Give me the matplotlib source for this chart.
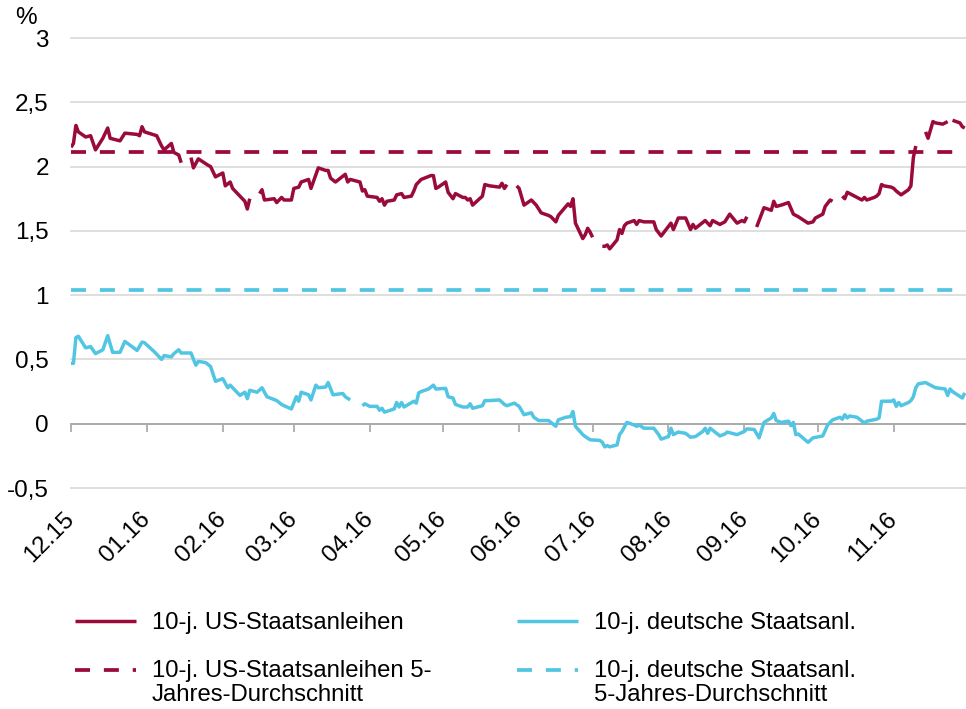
import numpy as np
import pandas as pd
import matplotlib
matplotlib.use('Agg')
from matplotlib import pyplot as plt
from matplotlib.legend_handler import HandlerLine2D

plt.rcParams['font.family'] = ['Liberation Sans', 'DejaVu Sans']

nan = np.nan

# 10-j. US-Staatsanleihen (Rendite in %), Luecken = Feiertage
us_dates = ['2015-12-01', '2015-12-02', '2015-12-03', '2015-12-04', '2015-12-07', '2015-12-09',
            '2015-12-11', '2015-12-14', '2015-12-16', '2015-12-17', '2015-12-21', '2015-12-23',
            '2015-12-28', '2015-12-29', '2015-12-30', '2015-12-31', '2016-01-05', '2016-01-07',
            '2016-01-08', '2016-01-11', '2016-01-12', '2016-01-14', '2016-01-15', '2016-01-18',
            '2016-01-19', '2016-01-20', '2016-01-22', '2016-01-26', '2016-01-27', '2016-01-29',
            '2016-02-01', '2016-02-02', '2016-02-04', '2016-02-05', '2016-02-08', '2016-02-10',
            '2016-02-11', '2016-02-12', '2016-02-15', '2016-02-16', '2016-02-17', '2016-02-18',
            '2016-02-22', '2016-02-23', '2016-02-25', '2016-02-26', '2016-02-29', '2016-03-01',
            '2016-03-03', '2016-03-04', '2016-03-07', '2016-03-08', '2016-03-11', '2016-03-14',
            '2016-03-15', '2016-03-16', '2016-03-18', '2016-03-22', '2016-03-23', '2016-03-24',
            '2016-03-28', '2016-03-29', '2016-03-30', '2016-03-31', '2016-04-04', '2016-04-05',
            '2016-04-06', '2016-04-07', '2016-04-08', '2016-04-11', '2016-04-12', '2016-04-14',
            '2016-04-15', '2016-04-18', '2016-04-19', '2016-04-20', '2016-04-22', '2016-04-26',
            '2016-04-27', '2016-04-28', '2016-04-29', '2016-05-02', '2016-05-03', '2016-05-05',
            '2016-05-06', '2016-05-09', '2016-05-10', '2016-05-11', '2016-05-12', '2016-05-13',
            '2016-05-17', '2016-05-18', '2016-05-20', '2016-05-24', '2016-05-25', '2016-05-26',
            '2016-05-27', '2016-05-30', '2016-05-31', '2016-06-01', '2016-06-03', '2016-06-06',
            '2016-06-08', '2016-06-10', '2016-06-13', '2016-06-14', '2016-06-16', '2016-06-17',
            '2016-06-21', '2016-06-22', '2016-06-23', '2016-06-24', '2016-06-27', '2016-06-28',
            '2016-06-29', '2016-06-30', '2016-07-01', '2016-07-04', '2016-07-05', '2016-07-06',
            '2016-07-07', '2016-07-08', '2016-07-11', '2016-07-12', '2016-07-13', '2016-07-14',
            '2016-07-15', '2016-07-18', '2016-07-19', '2016-07-20', '2016-07-22', '2016-07-26',
            '2016-07-27', '2016-07-29', '2016-08-02', '2016-08-03', '2016-08-05', '2016-08-08',
            '2016-08-10', '2016-08-11', '2016-08-12', '2016-08-16', '2016-08-18', '2016-08-19',
            '2016-08-22', '2016-08-24', '2016-08-26', '2016-08-29', '2016-08-31', '2016-09-01',
            '2016-09-02', '2016-09-05', '2016-09-06', '2016-09-09', '2016-09-12', '2016-09-13',
            '2016-09-14', '2016-09-16', '2016-09-19', '2016-09-21', '2016-09-23', '2016-09-27',
            '2016-09-29', '2016-09-30', '2016-10-03', '2016-10-04', '2016-10-06', '2016-10-07',
            '2016-10-10', '2016-10-11', '2016-10-12', '2016-10-13', '2016-10-17', '2016-10-19',
            '2016-10-20', '2016-10-21', '2016-10-24', '2016-10-25', '2016-10-26', '2016-10-27',
            '2016-10-28', '2016-10-31', '2016-11-01', '2016-11-02', '2016-11-04', '2016-11-07',
            '2016-11-08', '2016-11-09', '2016-11-10', '2016-11-11', '2016-11-14', '2016-11-15',
            '2016-11-17', '2016-11-18', '2016-11-21', '2016-11-23', '2016-11-24', '2016-11-25',
            '2016-11-28', '2016-11-29', '2016-11-30']
us_vals = [2.15, 2.18, 2.32, 2.27, 2.23, 2.24,
           2.13, 2.22, 2.30, 2.22, 2.20, 2.26,
           2.25, 2.24, 2.31, 2.27, 2.24, 2.16,
           2.13, 2.18, 2.11, 2.09, 2.03, nan,
           2.07, 1.99, 2.06, 2.01, 2.00, 1.92,
           1.95, 1.85, 1.88, 1.83, 1.77, 1.73,
           1.67, 1.75, nan, 1.79, 1.82, 1.74,
           1.75, 1.72, 1.76, 1.74, 1.74, 1.83,
           1.84, 1.88, 1.90, 1.83, 1.99, 1.97,
           1.97, 1.91, 1.88, 1.94, 1.88, 1.90,
           1.88, 1.81, 1.82, 1.77, 1.76, 1.73,
           1.75, 1.70, 1.73, 1.74, 1.78, 1.79,
           1.76, 1.77, 1.81, 1.86, 1.90, 1.93,
           1.93, 1.83, 1.84, 1.88, 1.80, 1.75,
           1.79, 1.76, 1.76, 1.74, 1.75, 1.70,
           1.77, 1.86, 1.85, 1.84, 1.87, 1.83,
           1.86, nan, 1.85, 1.83, 1.70, 1.74,
           1.70, 1.64, 1.62, 1.61, 1.57, 1.62,
           1.71, 1.69, 1.75, 1.56, 1.44, 1.47,
           1.52, 1.49, 1.45, nan, 1.38, 1.38,
           1.39, 1.36, 1.43, 1.51, 1.48, 1.54,
           1.56, 1.58, 1.55, 1.58, 1.57, 1.57,
           1.51, 1.46, 1.56, 1.51, 1.60, 1.60,
           1.51, 1.55, 1.52, 1.58, 1.54, 1.58,
           1.55, 1.57, 1.63, 1.56, 1.58, 1.57,
           1.61, nan, 1.53, 1.68, 1.66, 1.73,
           1.69, 1.70, 1.72, 1.63, 1.61, 1.56,
           1.57, 1.60, 1.63, 1.69, 1.74, 1.73,
           nan, 1.77, 1.75, 1.80, 1.76, 1.74,
           1.76, 1.74, 1.76, 1.77, 1.79, 1.86,
           1.85, 1.84, 1.83, 1.81, 1.78, 1.82,
           1.85, 2.07, 2.16, nan, 2.27, 2.22,
           2.35, 2.34, 2.33, 2.35, nan, 2.36,
           2.34, 2.31, 2.30]

# 10-j. deutsche Staatsanleihen (Rendite in %)
de_dates = ['2015-12-01', '2015-12-02', '2015-12-03', '2015-12-04', '2015-12-07', '2015-12-09',
            '2015-12-11', '2015-12-14', '2015-12-16', '2015-12-18', '2015-12-21', '2015-12-23',
            '2015-12-28', '2015-12-30', '2015-12-31', '2016-01-04', '2016-01-07', '2016-01-08',
            '2016-01-11', '2016-01-12', '2016-01-14', '2016-01-15', '2016-01-19', '2016-01-21',
            '2016-01-22', '2016-01-25', '2016-01-27', '2016-01-29', '2016-02-01', '2016-02-03',
            '2016-02-04', '2016-02-08', '2016-02-10', '2016-02-11', '2016-02-12', '2016-02-15',
            '2016-02-17', '2016-02-19', '2016-02-23', '2016-02-25', '2016-02-26', '2016-02-29',
            '2016-03-02', '2016-03-03', '2016-03-04', '2016-03-07', '2016-03-08', '2016-03-10',
            '2016-03-11', '2016-03-14', '2016-03-15', '2016-03-17', '2016-03-21', '2016-03-22',
            '2016-03-24', '2016-03-25', '2016-03-28', '2016-03-29', '2016-03-30', '2016-04-01',
            '2016-04-04', '2016-04-05', '2016-04-06', '2016-04-07', '2016-04-11', '2016-04-12',
            '2016-04-13', '2016-04-14', '2016-04-15', '2016-04-19', '2016-04-20', '2016-04-21',
            '2016-04-22', '2016-04-25', '2016-04-27', '2016-04-28', '2016-05-02', '2016-05-03',
            '2016-05-05', '2016-05-06', '2016-05-09', '2016-05-11', '2016-05-12', '2016-05-13',
            '2016-05-17', '2016-05-18', '2016-05-20', '2016-05-24', '2016-05-26', '2016-05-27',
            '2016-05-30', '2016-06-01', '2016-06-03', '2016-06-06', '2016-06-07', '2016-06-09',
            '2016-06-13', '2016-06-16', '2016-06-17', '2016-06-20', '2016-06-22', '2016-06-23',
            '2016-06-24', '2016-06-27', '2016-06-28', '2016-06-30', '2016-07-04', '2016-07-05',
            '2016-07-06', '2016-07-07', '2016-07-08', '2016-07-11', '2016-07-12', '2016-07-13',
            '2016-07-15', '2016-07-18', '2016-07-19', '2016-07-20', '2016-07-22', '2016-07-26',
            '2016-07-28', '2016-07-29', '2016-08-01', '2016-08-02', '2016-08-03', '2016-08-05',
            '2016-08-08', '2016-08-10', '2016-08-12', '2016-08-15', '2016-08-16', '2016-08-17',
            '2016-08-18', '2016-08-22', '2016-08-24', '2016-08-25', '2016-08-29', '2016-09-01',
            '2016-09-02', '2016-09-05', '2016-09-07', '2016-09-09', '2016-09-12', '2016-09-13',
            '2016-09-14', '2016-09-16', '2016-09-19', '2016-09-20', '2016-09-21', '2016-09-22',
            '2016-09-23', '2016-09-27', '2016-09-29', '2016-10-03', '2016-10-05', '2016-10-07',
            '2016-10-10', '2016-10-11', '2016-10-12', '2016-10-13', '2016-10-14', '2016-10-17',
            '2016-10-20', '2016-10-21', '2016-10-25', '2016-10-26', '2016-10-27', '2016-10-31',
            '2016-11-01', '2016-11-02', '2016-11-03', '2016-11-04', '2016-11-07', '2016-11-08',
            '2016-11-09', '2016-11-10', '2016-11-11', '2016-11-14', '2016-11-16', '2016-11-18',
            '2016-11-22', '2016-11-23', '2016-11-24', '2016-11-25', '2016-11-29', '2016-11-30']
de_vals = [0.47, 0.47, 0.67, 0.68, 0.59, 0.60,
           0.545, 0.575, 0.685, 0.555, 0.555, 0.64,
           0.57, 0.635, 0.63, 0.56, 0.50, 0.53,
           0.52, 0.545, 0.575, 0.55, 0.55, 0.455,
           0.485, 0.475, 0.445, 0.33, 0.35, 0.28,
           0.30, 0.22, 0.245, 0.195, 0.26, 0.245,
           0.28, 0.21, 0.18, 0.15, 0.14, 0.115,
           0.21, 0.175, 0.245, 0.225, 0.185, 0.30,
           0.28, 0.285, 0.32, 0.225, 0.235, 0.21,
           0.185, nan, nan, 0.14, 0.155, 0.135,
           0.135, 0.105, 0.12, 0.09, 0.115, 0.165,
           0.13, 0.165, 0.13, 0.175, 0.16, 0.24,
           0.25, 0.27, 0.30, 0.27, 0.275, 0.21,
           0.20, 0.15, 0.13, 0.13, 0.155, 0.12,
           0.14, 0.18, 0.18, 0.185, 0.15, 0.14,
           0.16, 0.135, 0.07, 0.085, 0.05, 0.025,
           0.025, -0.02, 0.03, 0.05, 0.055, 0.095,
           -0.02, -0.085, -0.10, -0.125, -0.13, -0.145,
           -0.18, -0.17, -0.18, -0.165, -0.085, -0.06,
           0.01, -0.01, -0.02, -0.01, -0.035, -0.035,
           -0.085, -0.12, -0.10, -0.035, -0.085, -0.065,
           -0.075, -0.105, -0.10, -0.06, -0.035, -0.075,
           -0.035, -0.095, -0.08, -0.065, -0.085, -0.06,
           -0.04, -0.045, -0.11, 0.01, 0.045, 0.08,
           0.025, 0.01, 0.02, -0.015, 0.01, -0.085,
           -0.08, -0.145, -0.11, -0.095, -0.01, 0.03,
           0.05, 0.035, 0.07, 0.045, 0.06, 0.05,
           0.005, 0.02, 0.035, 0.045, 0.175, 0.175,
           0.185, 0.135, 0.165, 0.14, 0.165, 0.18,
           0.21, 0.28, 0.31, 0.32, 0.30, 0.28,
           0.27, 0.22, 0.27, 0.25, 0.20, 0.24]

# 5-Jahres-Durchschnitte
us_avg = 2.11
de_avg = 1.04

month_labels = ['12.15', '01.16', '02.16', '03.16', '04.16', '05.16',
                '06.16', '07.16', '08.16', '09.16', '10.16', '11.16']
y_ticks = [-0.5, 0, 0.5, 1, 1.5, 2, 2.5, 3]
y_labels = ['-0,5', '0', '0,5', '1', '1,5', '2', '2,5', '3']

labels = ['10-j. US-Staatsanleihen',
          '10-j. US-Staatsanleihen 5-\nJahres-Durchschnitt',
          '10-j. deutsche Staatsanl.',
          '10-j. deutsche Staatsanl.\n5-Jahres-Durchschnitt']

RED = '#9B0A3C'
BLUE = '#52C5E3'
FS = 17.5


class HandlerTopLine(HandlerLine2D):
    # legend line sits on the first text line, like in the original
    def create_artists(self, legend, orig_handle, xdescent, ydescent,
                       width, height, fontsize, trans):
        arts = super().create_artists(legend, orig_handle, xdescent, ydescent,
                                      width, height, fontsize, trans)
        for a in arts:
            a.set_ydata(np.asarray(a.get_ydata()) + 0.55 * fontsize)
        return arts


us = pd.Series(us_vals, index=pd.to_datetime(us_dates))
de = pd.Series(de_vals, index=pd.to_datetime(de_dates))
month_starts = pd.date_range('2015-12-01', periods=len(month_labels), freq='MS')

fig = plt.figure(figsize=(9.66, 7.09), dpi=100)
ax = fig.add_axes([71 / 966, 1 - 488 / 709, 895 / 966, 450 / 709])

l_us, = ax.plot(us.index, us.values, color=RED, lw=2.5, solid_joinstyle='round',
                solid_capstyle='butt', zorder=4)
l_usavg = ax.axhline(us_avg, color=RED, lw=2.7, dashes=(4.0, 3.7), zorder=3)
l_de, = ax.plot(de.index, de.values, color=BLUE, lw=2.5, solid_joinstyle='round',
                solid_capstyle='butt', zorder=4)
l_deavg = ax.axhline(de_avg, color=BLUE, lw=2.7, dashes=(4.0, 3.7), zorder=3)

ax.set_xlim(pd.Timestamp('2015-12-01'), pd.Timestamp('2016-11-30 12:00'))
ax.set_ylim(-0.5, 3)

ax.set_yticks(y_ticks)
ax.set_yticklabels(y_labels)
ax.tick_params(axis='y', length=0, pad=16, labelsize=FS, labelcolor='black')
ax.grid(axis='y', color='#D9D9D9', lw=1.2)
for gl in ax.get_ygridlines():
    gl.set_clip_on(False)
ax.set_axisbelow(True)

for s in ['top', 'right', 'left']:
    ax.spines[s].set_visible(False)
ax.spines['bottom'].set_position(('data', 0))
ax.spines['bottom'].set_color('#A6A6A6')
ax.spines['bottom'].set_linewidth(1.3)
ax.spines['bottom'].set_zorder(2)

ax.set_xticks(month_starts)
ax.set_xticklabels(month_labels)
ax.tick_params(axis='x', direction='out', length=5.5, width=1.2, color='#A6A6A6',
               pad=61, labelsize=FS)
for t in ax.get_xticklabels():
    t.set_rotation(45)
    t.set_rotation_mode('anchor')
    t.set_ha('right')
    t.set_va('center')

fig.text(26 / 966, 1 - 18 / 709, '%', fontsize=FS, ha='center', va='center')

top = HandlerTopLine()
leg = fig.legend([l_us, l_usavg, l_de, l_deavg], labels, ncol=2,
                 loc='upper left', bbox_to_anchor=(75 / 966, 1 - 612 / 709),
                 frameon=False, fontsize=17.2, handlelength=2.55, handletextpad=0.66,
                 columnspacing=3.6, labelspacing=1.1, borderpad=0, borderaxespad=0,
                 handler_map={l_usavg: top, l_deavg: top})
for t in leg.get_texts():
    t.set_linespacing(1.12)

fig.savefig('out.png', dpi=100)
